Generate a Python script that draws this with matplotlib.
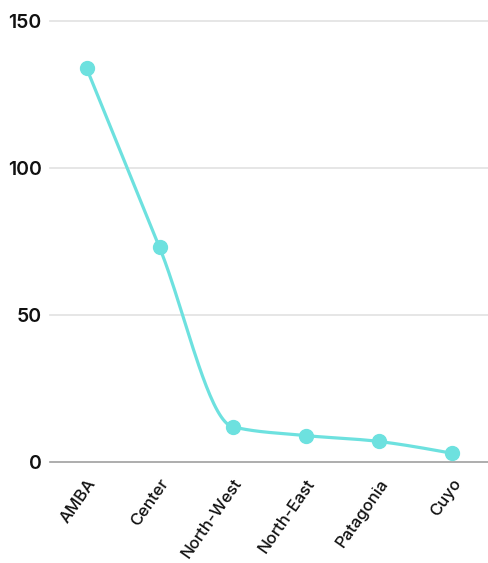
import numpy as np
import matplotlib
matplotlib.use("Agg")
import matplotlib.pyplot as plt

regions = ["AMBA", "Center", "North-West", "North-East", "Patagonia", "Cuyo"]
counts = [134, 73, 12, 9, 7, 3]
y_ticks = [0, 50, 100, 150]

LINE_COLOR = "#6de1df"


def monotone_x(xs, ys, n=40):
    """d3.curveMonotoneX 风格的平滑插值"""
    xs = np.asarray(xs, float)
    ys = np.asarray(ys, float)
    h = np.diff(xs)
    s = np.diff(ys) / h
    t = np.zeros(len(xs))
    for i in range(1, len(xs) - 1):
        p = (s[i - 1] * h[i] + s[i] * h[i - 1]) / (h[i - 1] + h[i])
        t[i] = (np.sign(s[i - 1]) + np.sign(s[i])) * min(abs(s[i - 1]), abs(s[i]), 0.5 * abs(p))
    t[0] = (3 * s[0] - t[1]) / 2
    t[-1] = (3 * s[-1] - t[-2]) / 2
    px, py = [], []
    for i in range(len(xs) - 1):
        u = np.linspace(0, 1, n)
        h00 = 2 * u**3 - 3 * u**2 + 1
        h10 = u**3 - 2 * u**2 + u
        h01 = -2 * u**3 + 3 * u**2
        h11 = u**3 - u**2
        px.extend(xs[i] + u * h[i])
        py.extend(h00 * ys[i] + h10 * h[i] * t[i] + h01 * ys[i + 1] + h11 * h[i] * t[i + 1])
    return np.array(px), np.array(py)


plt.rcParams["font.family"] = ["Inter", "DejaVu Sans"]

fig = plt.figure(figsize=(4.88, 5.63), dpi=100)
ax = fig.add_axes([0.1025, 0.1794, 0.8975, 0.7833])

x = np.arange(len(regions))
sx, sy = monotone_x(x, counts)
ax.plot(sx, sy, color=LINE_COLOR, lw=2.3, zorder=3, solid_capstyle="round")
ax.plot(x, counts, "o", color=LINE_COLOR, ms=10, zorder=4, clip_on=False)

ax.set_xlim(-0.5, 5.5)
ax.set_ylim(0, 150)
ax.set_yticks(y_ticks)
ax.set_yticklabels([str(v) for v in y_ticks], fontsize=14, fontweight="semibold", color="#111111")
ax.set_xticks(x)
ax.set_xticklabels(regions, rotation=55, ha="right", rotation_mode="anchor",
                   fontsize=12, fontweight="medium", color="#111111")
ax.tick_params(axis="both", length=0)
ax.tick_params(axis="y", pad=6)
ax.tick_params(axis="x", pad=10)

for v in y_ticks[1:]:
    ax.axhline(v, color="#e2e2e2", lw=1.2, zorder=1, clip_on=False)
ax.axhline(0, color="#a0a0a0", lw=1.2, zorder=2, clip_on=False)

for sp in ax.spines.values():
    sp.set_visible(False)

plt.savefig("out.png", dpi=100)
